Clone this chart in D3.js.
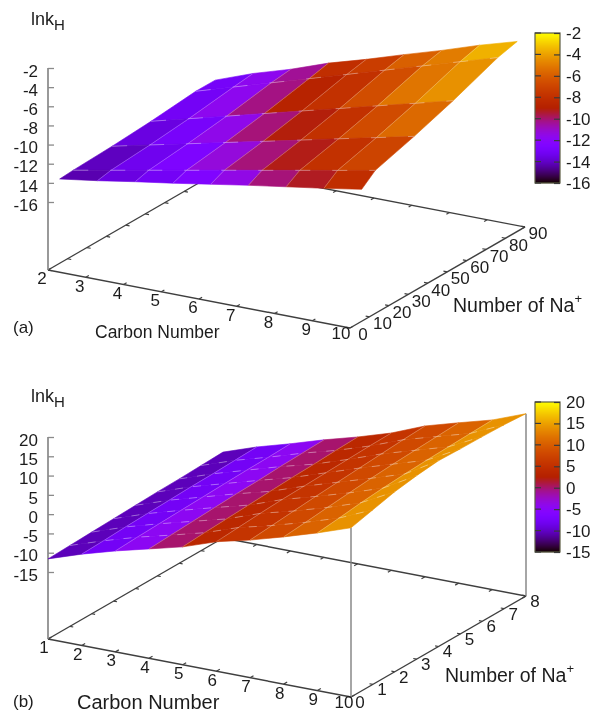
<!DOCTYPE html>
<html>
<head>
<meta charset="utf-8">
<script src="https://cdn.jsdelivr.net/npm/d3@7"></script>
<style>
  html, body { margin: 0; padding: 0; background: #fff; }
  text { font-family: "Liberation Sans", Arial, sans-serif; fill: #1c1c1c; }
</style>
</head>
<body>
<script>
// panel (a)
var carbonTicksA = [2, 3, 4, 5, 6, 7, 8, 9, 10];
var naTicksA = [0, 10, 20, 30, 40, 50, 60, 70, 80, 90];
var zTicksA = [-2, -4, -6, -8, -10, -12, -14, -16];
var zLabelsA = ["-2", "-4", "-6", "-8", "-10", "-12", "14", "-16"]; // the minus really is missing on 14
var gridNaA = [6, 13, 33, 53, 76, 86];
var surfaceA = [
  [-14.3, -13.72, -13.07, -12.47, -11.82, -11.17, -10.57, -9.97, -9.32],
  [-14.2, -13.45, -12.69, -11.94, -11.18, -10.43, -9.67, -8.92, -8.16],
  [-14.04, -13.15, -12.27, -11.38, -10.5, -9.61, -8.72, -7.84, -6.95],
  [-13.78, -12.75, -11.73, -10.7, -9.67, -8.65, -7.62, -6.6, -5.57],
  [-13.34, -12.14, -10.94, -9.75, -8.55, -7.35, -6.15, -4.95, -3.76],
  [-13.35, -11.9, -10.7, -9.3, -8.15, -6.9, -5.7, -4.4, -3.25]
];
// colour level of each cell, front row first
var levelsA = [
  [-14.3, -13.6, -13.1, -12.5, -11.5, -10.1, -9.3, -8.1],
  [-14.1, -13.3, -12.6, -11.3, -10.1, -9.2, -7.9, -7.0],
  [-13.6, -12.9, -11.6, -10.1, -9.1, -7.9, -6.7, -5.6],
  [-13.1, -11.7, -10.2, -8.8, -7.9, -6.6, -5.2, -4.4],
  [-13.0, -11.7, -10.4, -8.1, -7.3, -5.9, -5.0, -3.6]
];

// panel (b)
var carbonTicksB = [1, 2, 3, 4, 5, 6, 7, 8, 9, 10];
var naTicksB = [0, 1, 2, 3, 4, 5, 6, 7, 8];
var zTicksB = [20, 15, 10, 5, 0, -5, -10, -15];
var zLabelsB = ["20", "15", "10", "5", "0", "-5", "-10", "-15"];
var gridNaB = [0, 1, 2, 3, 4, 5, 6, 7, 8];
var surfaceB = [
  [-11.6, -8.7, -6.2, -4.0, -1.8, 1.2, 3.3, 5.8, 8.5, 11.5],
  [-11.4, -8.5, -5.9, -3.7, -1.4, 1.6, 3.8, 6.3, 9.1, 12.9],
  [-11.2, -8.2, -5.7, -3.4, -1.1, 2.0, 4.3, 6.9, 9.8, 14.3],
  [-11.0, -8.0, -5.5, -3.1, -0.8, 2.3, 4.8, 7.4, 10.3, 15.2],
  [-10.8, -7.8, -5.3, -2.8, -0.5, 2.5, 5.2, 7.9, 10.7, 15.8],
  [-10.6, -7.6, -5.1, -2.6, -0.2, 2.7, 5.6, 8.3, 11.0, 15.6],
  [-10.5, -7.5, -4.9, -2.3, 0.0, 2.9, 6.0, 8.6, 11.2, 15.5],
  [-10.3, -7.3, -4.8, -2.1, 0.3, 3.1, 6.4, 8.9, 11.4, 15.3],
  [-10.1, -7.1, -4.6, -1.9, 0.5, 3.2, 6.7, 9.2, 11.6, 14.9]
];
// the bands hardly change along Na, so one level per carbon column
var levelsB = [-10.45, -7.75, -4.5, 0.05, 3.9, 5.65, 8.1, 10.55, 14.05];

var w = 592, h = 713;

var svg = d3.select("body").append("svg")
    .attr("width", w)
    .attr("height", h)
    .style("display", "block");

// the reference is a soft scan
var root = svg.append("g").style("filter", "blur(0.45px)");

// gnuplot's default pm3d palette (7,5,15)
function palette(x) {
  return d3.rgb(255 * Math.sqrt(x), 255 * x * x * x, 255 * Math.max(0, Math.sin(2 * Math.PI * x))).formatHex();
}

var line = d3.line();

function drawPanel(p) {
  var g = root.append("g");

  var carbon = d3.scaleLinear().domain(d3.extent(p.carbonTicks)).range(p.carbonRange);
  var na = d3.scaleLinear().domain(d3.extent(p.naTicks)).range(p.naRange);
  var zScale = d3.scaleLinear().domain(d3.extent(p.zTicks)).range(p.zRange);
  var originY = p.carbonRange[0][1];

  function project(c, n, z) {
    var a = carbon(c), b = na(n);
    return [a[0] + b[0], a[1] + b[1] + (z === undefined ? 0 : zScale(z) - originY)];
  }

  var cMin = p.carbonTicks[0], cMax = p.carbonTicks[p.carbonTicks.length - 1];
  var nMin = p.naTicks[0], nMax = p.naTicks[p.naTicks.length - 1];

  // floor of the box
  var floor = [
    [[cMin, nMin], [cMax, nMin]],
    [[cMax, nMin], [cMax, nMax]],
    [[cMin, nMin], [cMin, nMax]],
    [[cMin, nMax], [cMax, nMax]]
  ];
  g.selectAll(".floor").data(floor).enter().append("path")
    .attr("class", "floor")
    .attr("d", function(d) { return line([project(d[0][0], d[0][1]), project(d[1][0], d[1][1])]); })
    .attr("fill", "none")
    .attr("stroke", "#3f3f3f")
    .attr("stroke-width", 1.4);

  // ticks on the four floor edges
  var nUnit = (p.naTicks[1] - p.naTicks[0]) * 0.16;
  var cUnit = 0.1;
  p.carbonTicks.forEach(function(c) {
    [[nMin, nUnit], [nMax, -nUnit]].forEach(function(e) {
      g.append("path")
        .attr("d", line([project(c, e[0]), project(c, e[0] + e[1])]))
        .attr("stroke", "#3f3f3f").attr("stroke-width", 1.2);
    });
  });
  p.naTicks.forEach(function(n) {
    [[cMin, cUnit], [cMax, -cUnit]].forEach(function(e) {
      g.append("path")
        .attr("d", line([project(e[0], n), project(e[0] + e[1], n)]))
        .attr("stroke", "#3f3f3f").attr("stroke-width", 1.2);
    });
  });

  // upright lines of the box
  p.uprights.forEach(function(u) {
    var top = project(u[0], u[1], u[2]);
    g.append("path")
      .attr("d", line([project(u[0], u[1]), top]))
      .attr("stroke", "#808080").attr("stroke-width", 1.4);
  });

  // z axis
  var zTop = p.zTicks[0];
  g.append("path")
    .attr("d", line([project(cMin, nMin), project(cMin, nMin, zTop)]))
    .attr("stroke", "#808080").attr("stroke-width", 1.6);

  var zAxis = g.append("g")
    .attr("transform", "translate(" + p.carbonRange[0][0] + ",0)")
    .call(d3.axisLeft(zScale)
      .tickValues(p.zTicks)
      .tickSize(-6)
      .tickPadding(10)
      .tickFormat(function(d, i) { return p.zLabels[i]; }));
  zAxis.select(".domain").remove();
  zAxis.selectAll("line").attr("stroke", "#8a8a8a").attr("stroke-width", 1.3);
  zAxis.selectAll("text")
    .attr("font-size", 17)
    .attr("font-family", null)
    .attr("dy", "0.48em");

  // carbon and Na tick labels
  g.selectAll(".clabel").data(p.carbonTicks).enter().append("text")
    .attr("class", "clabel")
    .attr("x", function(d) { return project(d, nMin)[0] + p.carbonOffset[0] - (d === cMax ? 3 : 0); })
    .attr("y", function(d) { return project(d, nMin)[1] + p.carbonOffset[1] - (d === cMax ? 3 : 0); })
    .attr("text-anchor", "middle")
    .attr("dominant-baseline", "middle")
    .attr("font-size", 17)
    .text(function(d) { return d; });

  g.selectAll(".nlabel").data(p.naTicks).enter().append("text")
    .attr("class", "nlabel")
    .attr("x", function(d) { return project(cMax, d)[0] + p.naOffset[0]; })
    .attr("y", function(d) { return project(cMax, d)[1] + p.naOffset[1]; })
    .attr("text-anchor", "middle")
    .attr("dominant-baseline", "middle")
    .attr("font-size", 17)
    .text(function(d) { return d; });

  // surface, back rows first
  var carbons = d3.range(p.surface[0].length).map(function(i) { return cMin + i; });
  var corner = function(r, k) { return project(carbons[k], p.gridNa[r], p.surface[r][k]); };
  for (var r = p.surface.length - 2; r >= 0; r--) {
    for (var k = 0; k < carbons.length - 1; k++) {
      var colour = palette(p.colourScale(p.level(r, k)));
      g.append("path")
        .attr("d", line([corner(r, k), corner(r, k + 1), corner(r + 1, k + 1), corner(r + 1, k)]) + "Z")
        .attr("fill", colour)
        .attr("stroke", colour)
        .attr("stroke-width", 0.6);
    }
  }

  // pale grid on the surface: solid along Na, broken along carbon
  d3.range(1, carbons.length - 1).forEach(function(k) {
    g.append("path")
      .attr("d", line(p.gridNa.map(function(n, r) { return corner(r, k); })))
      .attr("fill", "none")
      .attr("stroke", "#ffffff")
      .attr("stroke-opacity", 0.3)
      .attr("stroke-width", 0.8);
  });
  d3.range(1, p.gridNa.length - 1).forEach(function(r) {
    g.append("path")
      .attr("d", line(carbons.map(function(c, k) { return corner(r, k); })))
      .attr("fill", "none")
      .attr("stroke", "#ffffff")
      .attr("stroke-opacity", 0.42)
      .attr("stroke-width", 0.9)
      .attr("stroke-dasharray", p.dash);
  });

  // colour bar
  var barScale = d3.scaleLinear().domain(d3.extent(p.zTicks)).range(p.barY);
  var barY = d3.range(p.barY[1], p.barY[0], 1);
  g.selectAll(".strip").data(barY).enter().append("rect")
    .attr("class", "strip")
    .attr("x", p.barX)
    .attr("y", function(d) { return d; })
    .attr("width", p.barW)
    .attr("height", 1.2)
    .attr("fill", function(d) { return palette(p.colourScale(barScale.invert(d + 0.5))); });
  g.append("rect")
    .attr("x", p.barX).attr("y", p.barY[1])
    .attr("width", p.barW).attr("height", p.barY[0] - p.barY[1])
    .attr("fill", "none")
    .attr("stroke", "#5c5c44").attr("stroke-width", 1.2);

  var barAxis = g.append("g")
    .attr("transform", "translate(" + (p.barX + p.barW) + ",0)")
    .call(d3.axisRight(barScale)
      .tickValues(p.zTicks)
      .tickSize(-6)
      .tickPadding(6)
      .tickFormat(function(d) { return d; }));
  barAxis.select(".domain").remove();
  barAxis.selectAll("line").attr("stroke", "#3a3a3a").attr("stroke-width", 1.2);
  barAxis.selectAll("text").attr("font-size", 17).attr("font-family", null);
  // same stubs on the left side of the bar
  p.zTicks.forEach(function(t) {
    g.append("path")
      .attr("d", line([[p.barX, barScale(t)], [p.barX + 6, barScale(t)]]))
      .attr("stroke", "#3a3a3a").attr("stroke-width", 1.2);
  });

  // titles
  g.append("text").attr("x", 31).attr("y", p.titleY).attr("font-size", 18).text("lnk")
    .append("tspan").attr("dy", 5).attr("font-size", 15).text("H");
  g.append("text").attr("x", 13).attr("y", p.tagY).attr("font-size", 17).text(p.tag);
  g.append("text").attr("x", p.carbonTitle[0]).attr("y", p.carbonTitle[1])
    .attr("font-size", p.carbonTitle[2]).text("Carbon Number");
  g.append("text").attr("x", p.naTitle[0]).attr("y", p.naTitle[1]).attr("font-size", 19.5)
    .text("Number of Na")
    .append("tspan").attr("dy", -9).attr("font-size", 13).text("+");
}

drawPanel({
  carbonTicks: carbonTicksA, naTicks: naTicksA, zTicks: zTicksA, zLabels: zLabelsA,
  gridNa: gridNaA, surface: surfaceA,
  level: function(r, k) { return levelsA[r][k]; },
  colourScale: d3.scaleLinear().domain([-16, -2]).range([0, 1]).clamp(true),
  carbonRange: [[48, 270], [350, 328]],
  naRange: [[0, 0], [175, -101]],
  zRange: [202, 68],
  uprights: [],
  carbonOffset: [-6, 10], naOffset: [13, 8],
  dash: "15 22",
  barX: 535, barW: 25, barY: [183, 33],
  titleY: 25, tag: "(a)", tagY: 333,
  carbonTitle: [95, 338, 17.5], naTitle: [453, 312]
});

drawPanel({
  carbonTicks: carbonTicksB, naTicks: naTicksB, zTicks: zTicksB, zLabels: zLabelsB,
  gridNa: gridNaB, surface: surfaceB,
  level: function(r, k) { return levelsB[k]; },
  colourScale: d3.scaleLinear().domain([-15, 20]).range([0, 1]).clamp(true),
  carbonRange: [[48, 639], [351, 697]],
  naRange: [[0, 0], [175, -101]],
  zRange: [572, 437],
  uprights: [[10, 0, 11.5], [10, 8, 14.9]],
  carbonOffset: [-4, 10], naOffset: [9, 6.5],
  dash: "8 10",
  barX: 535, barW: 25, barY: [552, 402],
  titleY: 402, tag: "(b)", tagY: 707,
  carbonTitle: [77, 708.5, 20], naTitle: [445, 682]
});
</script>
</body>
</html>
